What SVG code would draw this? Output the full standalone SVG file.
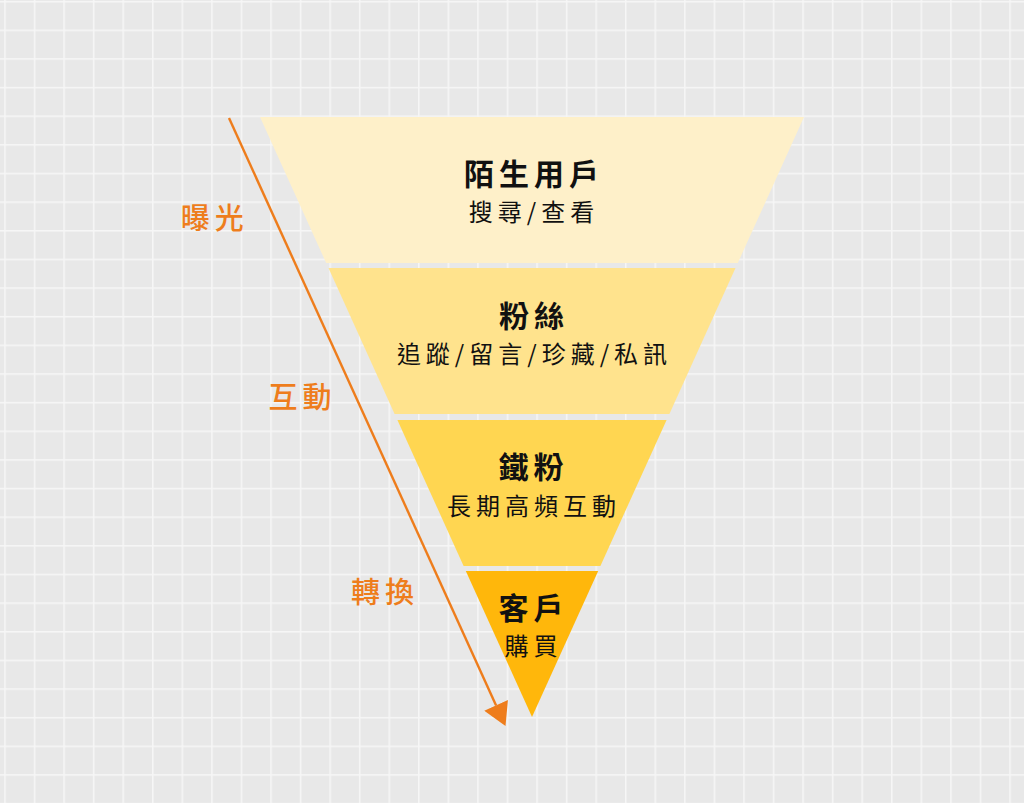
<svg xmlns="http://www.w3.org/2000/svg" width="1024" height="803" viewBox="0 0 1024 803">
  <style>
    .title { font-family: "Noto Sans CJK TC", "Noto Sans CJK SC", sans-serif; font-size: 30px; font-weight: 700; fill: #111111; text-anchor: middle; letter-spacing: 5px; }
    .sub { font-family: "Noto Sans CJK TC", "Noto Sans CJK SC", sans-serif; font-size: 24px; font-weight: 400; fill: #111111; text-anchor: middle; letter-spacing: 5px; }
    .stage { font-family: "Noto Sans CJK TC", "Noto Sans CJK SC", sans-serif; font-size: 29px; font-weight: 500; fill: #EE7D1C; text-anchor: middle; letter-spacing: 5px; }
    .flow { stroke: #EE7D1C; stroke-width: 2.4; fill: none; }
  </style>
  <defs>
    <pattern id="grid" patternUnits="userSpaceOnUse" x="4.2" y="0.9" width="29.56" height="28.64">
      <rect width="29.56" height="28.64" fill="#e8e8e8"/>
      <rect x="0" y="0" width="1.6" height="28.64" fill="#f6f6f6"/>
      <rect x="0" y="0" width="29.56" height="1.6" fill="#f6f6f6"/>
    </pattern>
    <marker id="head" markerUnits="userSpaceOnUse" markerWidth="24" markerHeight="26" refX="0" refY="12.3" orient="auto" viewBox="0 0 22 24.6">
      <path d="M0,0 L21.5,12.3 L0,24.6 Z" fill="#EE7D1C"/>
    </marker>
  </defs>
  <rect width="1024" height="803" fill="url(#grid)"/>

  <g id="connectors">
    <line class="flow" x1="229" y1="118" x2="496.1" y2="705.4" marker-end="url(#head)"/>
  </g>

  <g id="stage-exposure">
    <text class="stage" x="214.7" y="228.5">曝光</text>
  </g>
  <g id="stage-interaction">
    <text class="stage" x="302.5" y="408">互動</text>
  </g>
  <g id="stage-conversion">
    <text class="stage" x="385" y="603">轉換</text>
  </g>

  <g id="level-strangers">
    <polygon points="260,117 804,117 737.8,263 326.2,263" fill="#FEF0C9"/>
    <text class="title" x="534" y="185.4">陌生用戶</text>
    <text class="sub" x="534" y="221">搜尋/查看</text>
  </g>
  <g id="level-fans">
    <polygon points="328.5,268 735.5,268 669.4,414 394.6,414" fill="#FFE38D"/>
    <text class="title" x="534" y="327.4">粉絲</text>
    <text class="sub" x="534.5" y="363">追蹤/留言/珍藏/私訊</text>
  </g>
  <g id="level-loyal">
    <polygon points="397.4,420 666.6,420 600.4,566 463.6,566" fill="#FFD651"/>
    <text class="title" x="533.5" y="478.4">鐵粉</text>
    <text class="sub" x="534" y="515">長期高頻互動</text>
  </g>
  <g id="level-customers">
    <polygon points="465.8,571 598.2,571 532,717" fill="#FFB70B"/>
    <text class="title" x="533.5" y="618.9">客戶</text>
    <text class="sub" x="533.5" y="655">購買</text>
  </g>
</svg>
